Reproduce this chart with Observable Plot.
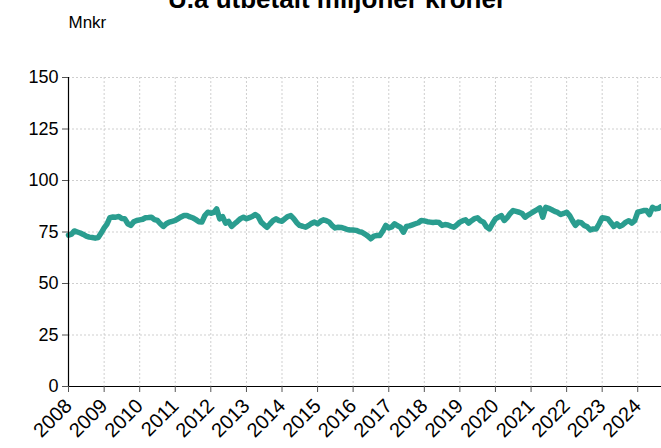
<!DOCTYPE html>
<html><head><meta charset="utf-8">
<script src="https://cdn.jsdelivr.net/npm/d3@7"></script>
<script src="https://cdn.jsdelivr.net/npm/@observablehq/plot@0.6"></script>
<style>
body{margin:0;background:#fff;font-family:"Liberation Sans",Arial,sans-serif}
#chart svg{display:block;overflow:visible}
</style>
</head><body><div id="chart"></div>
<script>
const title = "U.a utbetalt miljoner kroner";
const unit = "Mnkr";
const startYear = 2008;
const startMonth = 0;
// monthly values, Jan 2008 – Sep 2024
const values2008 = [73.5,74,75.5,75,74.5,73.8,73,72.5,72.3,72,72.3,74.5];
const values2009 = [77,79,82,82.3,82.2,82.5,81.5,81.4,79,78.2,80,80.6];
const values2010 = [80.9,81.2,81.9,82,82.2,81,80.6,79,77.7,79,79.8,80.2];
const values2011 = [80.6,81.5,82.3,83,83,82.3,81.9,81,80,79.8,83,84.6];
const values2012 = [84.1,84.5,86.2,81.4,82.5,79.3,80.1,77.7,79,80.2,81.5,82.2];
const values2013 = [81.4,82,82.5,83.5,82.5,79.8,78.5,77.3,79,80.5,81.4,80.5];
const values2014 = [80.2,81.5,82.5,83,81.5,79.5,78.2,77.8,77.3,78.2,79.2,79.8];
const values2015 = [79,80.2,80.9,80.5,79.8,78,77,77.3,77.2,76.8,76.2,76];
const values2016 = [76,75.8,75.2,74.9,74,73,71.7,73,73.3,73.3,75.5,78.2];
const values2017 = [77,77.5,79,78,77.3,74.9,77.7,78,78.5,79,79.5,80.6];
const values2018 = [80.4,80,79.8,79.6,79.8,79.6,78.2,78.6,78.4,77.8,77.3,78.5];
const values2019 = [79.8,80.5,80.9,79.3,80.5,81.5,81.9,80.5,79.8,77.5,76.5,79];
const values2020 = [81.4,82.2,83,80.6,82,84,85.4,85,84.6,84,82.2,83.2];
const values2021 = [84.1,85,85.8,86.7,82.2,87,86.5,85.8,85,84.5,83.5,84];
const values2022 = [84.6,83,80.6,78.2,79.8,79.5,78.2,77.5,76,76.5,76.5,79];
const values2023 = [81.9,81.7,81.4,79.5,77.7,79,77.7,78.5,79.8,80.5,79.3,80.5];
const values2024 = [84.6,85,85.4,85.4,83.5,87,86.2,86.5,87.4];
const yTicks = [0,25,50,75,100,125,150];
const tickYears = [2008,2009,2010,2011,2012,2013,2014,2015,2016,2017,2018,2019,2020,2021,2022,2023,2024];

const values = [].concat(values2008,values2009,values2010,values2011,values2012,values2013,values2014,
  values2015,values2016,values2017,values2018,values2019,values2020,values2021,values2022,values2023,values2024);
const data = values.map((v,i)=>({date:new Date(Date.UTC(startYear,startMonth+i,1)),value:v}));
const yearDates = tickYears.map(y=>new Date(Date.UTC(y,0,1)));
const xDomain = [data[0].date, data[data.length-1].date];

const grid = {stroke:"#cfcfcf", strokeOpacity:1, strokeDasharray:"2,2"};
const chart = Plot.plot({
  width:661, height:448,
  marginTop:77, marginBottom:62, marginLeft:68, marginRight:0,
  style:{fontFamily:"'Liberation Sans', Arial, sans-serif", background:"#fff", color:"#000"},
  x:{type:"utc", domain:xDomain},
  y:{domain:[0,150]},
  marks:[
    Plot.gridX(yearDates, grid),
    Plot.gridY(yTicks, grid),
    Plot.line(data,{x:"date",y:"value",stroke:"#2a9d8f",strokeWidth:5.5,strokeLinejoin:"round",strokeLinecap:"round"}),
    Plot.ruleX([xDomain[0]],{stroke:"#000",strokeWidth:1.2}),
    Plot.ruleY([0],{stroke:"#000",strokeWidth:1.2}),
    Plot.axisY(yTicks,{tickSize:6,tickPadding:4,fontSize:18,stroke:"#555",label:null}),
    Plot.axisX(yearDates,{tickSize:6,tickPadding:10,tickRotate:-45,fontSize:20,tickFormat:d3.utcFormat("%Y"),stroke:"#555",label:null}),
    Plot.text([title],{frameAnchor:"top",dx:-28,dy:-70,lineAnchor:"bottom",fontSize:26,fontWeight:"bold"}),
    Plot.text([unit],{frameAnchor:"top-left",textAnchor:"start",dy:-55,lineAnchor:"middle",fontSize:17})
  ]
});
document.getElementById("chart").appendChild(chart);
</script>
</body></html>
